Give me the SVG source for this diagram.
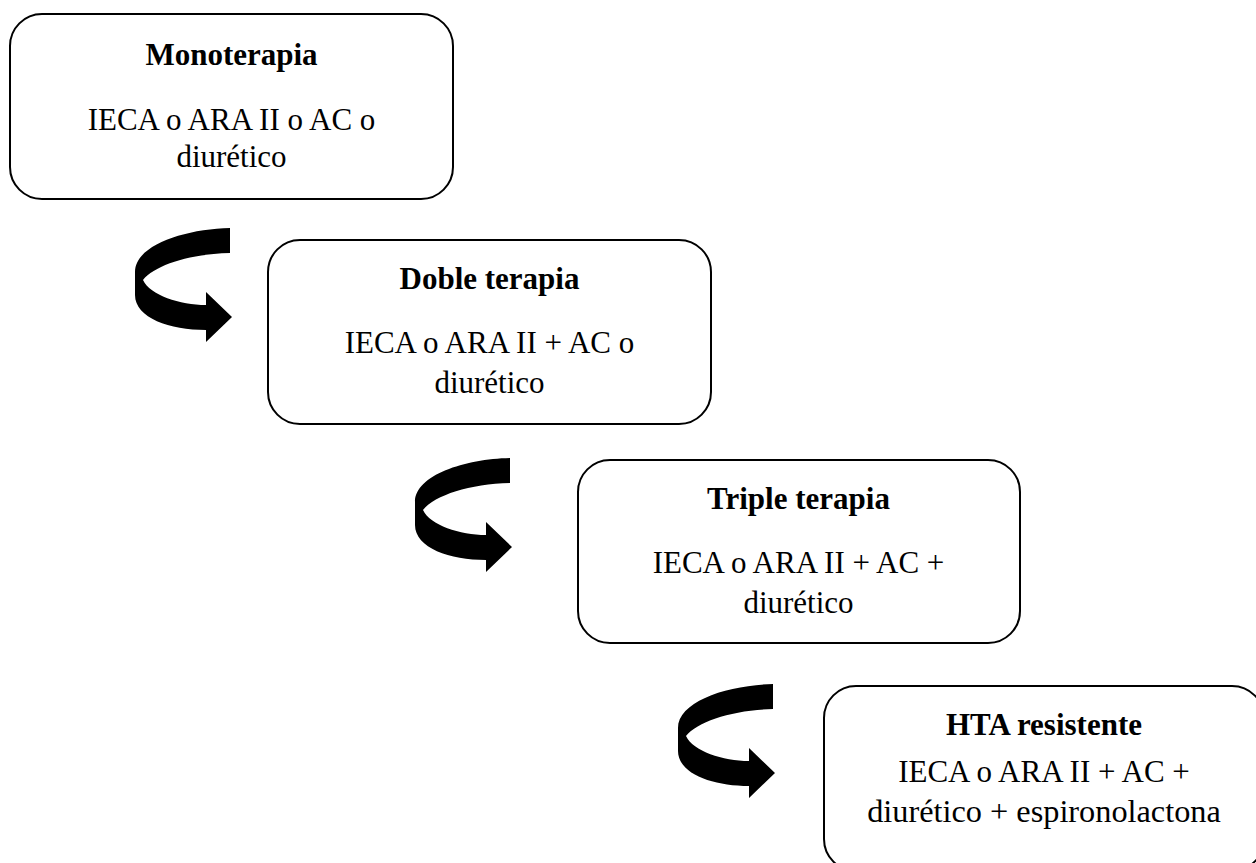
<svg xmlns="http://www.w3.org/2000/svg" width="1256" height="863" viewBox="0 0 1256 863">
  <style>
    .box { fill: #ffffff; stroke: #000000; stroke-width: 2; }
    .title { font-family: "Liberation Serif", "Times New Roman", serif; font-size: 31px; font-weight: bold; text-anchor: middle; fill: #000; }
    .body { font-family: "Liberation Serif", "Times New Roman", serif; font-size: 31px; text-anchor: middle; fill: #000; }
    .curl { fill: #000000; }
  </style>
  <defs>
    <!-- curved block arrow: tail at top right, sweeping left and back to a head pointing right -->
    <path id="curl" d="M230,228 C185,229 135,245 135,272 L135,295 C135,318 170,330 206,330 L206,342 L232,317 L206,292 L206,305 C180,305 150,295 143,280 C155,265 190,254 230,253 Z"/>
  </defs>
  <rect width="1256" height="863" fill="#ffffff"/>

  <g id="connectors">
    <use href="#curl" class="curl"/>
    <use href="#curl" class="curl" transform="translate(280,230)"/>
    <use href="#curl" class="curl" transform="translate(543,456)"/>
  </g>

  <g id="monoterapia">
    <rect class="box" x="10" y="14" width="443" height="185" rx="32" ry="32"/>
    <text class="title" x="231.5" y="65">Monoterapia</text>
    <text class="body" x="231.5" y="130">IECA o ARA II o AC o</text>
    <text class="body" x="231.5" y="167">diurético</text>
  </g>

  <g id="doble-terapia">
    <rect class="box" x="268" y="240" width="443" height="184" rx="32" ry="32"/>
    <text class="title" x="489.5" y="289">Doble terapia</text>
    <text class="body" x="489.5" y="353">IECA o ARA II + AC o</text>
    <text class="body" x="489.5" y="393">diurético</text>
  </g>

  <g id="triple-terapia">
    <rect class="box" x="578" y="460" width="442" height="183" rx="32" ry="32"/>
    <text class="title" x="798.5" y="509">Triple terapia</text>
    <text class="body" x="798.5" y="573">IECA o ARA II + AC +</text>
    <text class="body" x="798.5" y="613">diurético</text>
  </g>

  <g id="hta-resistente">
    <rect class="box" x="824" y="686" width="440" height="185" rx="32" ry="32"/>
    <text class="title" x="1044" y="735">HTA resistente</text>
    <text class="body" x="1044" y="782">IECA o ARA II + AC +</text>
    <text class="body" x="1044" y="822" style="font-size:32.3px">diurético + espironolactona</text>
  </g>
</svg>
